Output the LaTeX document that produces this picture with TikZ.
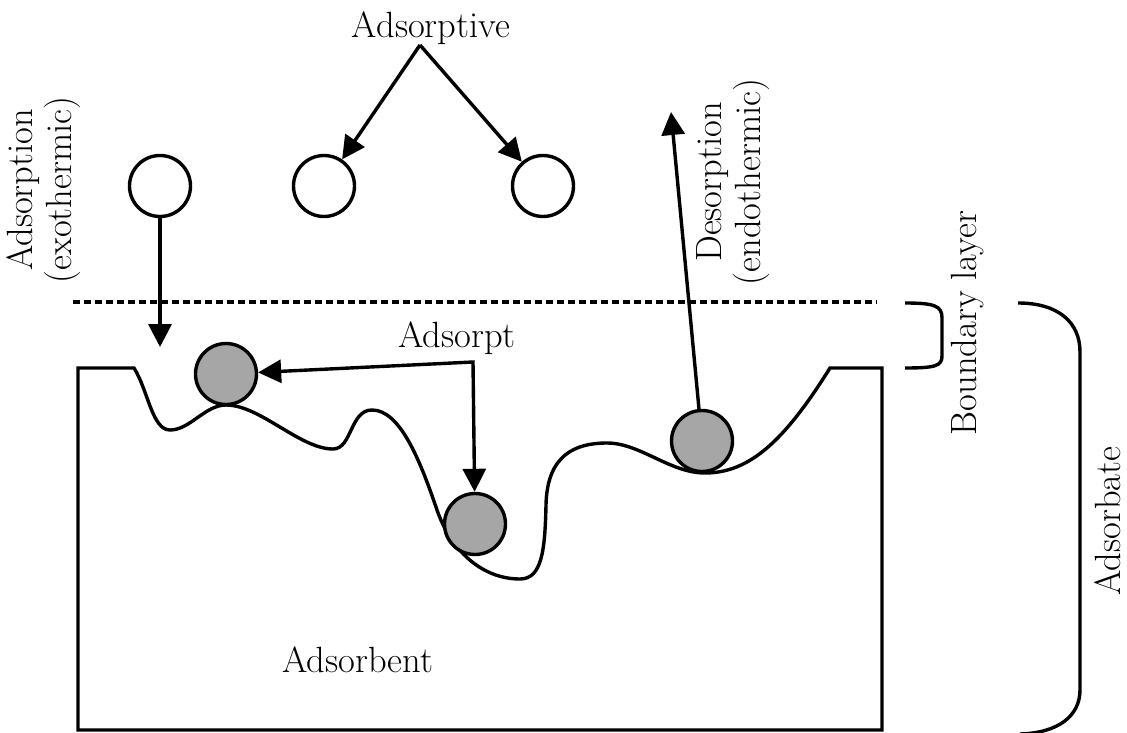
\documentclass[tikz,border=0pt]{standalone}
\usetikzlibrary{arrows.meta}
\definecolor{ballgray}{RGB}{166,166,166}
\begin{document}
\begin{tikzpicture}[x=1pt,y=-1pt,
  every node/.style={font=\fontsize{36.5}{39}\selectfont},
  ball/.style={circle,draw,line width=3.4pt,minimum size=61pt,inner sep=0pt},
  freeball/.style={ball,fill=white},
  boundball/.style={ball,fill=ballgray},
  conn/.style={line width=3.4pt,-{Triangle[length=23pt,width=23pt]}},
  outline/.style={line width=3.4pt,line join=miter},
  lbl/.style={inner sep=0pt,align=center}]
\useasboundingbox (0,0) rectangle (1127,733);

% adsorbent body with rough surface
\draw[outline] (78,730) -- (78,368) -- (134,368)
  .. controls (148,390) and (152,430) .. (170,430)
  .. controls (190,430) and (205,405) .. (226,405)
  .. controls (260,405) and (300,449) .. (333,449)
  .. controls (352,449) and (350,410) .. (372,410)
  .. controls (400,410) and (420,460) .. (437,510)
  .. controls (450,548) and (480,579) .. (520,579)
  .. controls (542,579) and (545,550) .. (546,505)
  .. controls (547,455) and (575,443) .. (607,443)
  .. controls (640,443) and (670,473) .. (705,473)
  .. controls (750,473) and (785,440) .. (830,368)
  -- (882,368) -- (882,730) -- cycle;

% boundary (dashed) line
\draw[line width=3.4pt,dash pattern=on 7pt off 4pt] (73,302) -- (877,302);

% free molecules
\node[freeball] (c1) at (160,186) {};
\node[freeball] (c2) at (324,186) {};
\node[freeball] (c3) at (543,186) {};

% adsorbed molecules
\node[boundball] (g1) at (226,374) {};
\node[boundball] (g2) at (475,524) {};
\node[boundball] (g3) at (702,441) {};

% labels
\node[lbl] (adsorptive) at (431,28) {Adsorptive};
\node[lbl] (adsorpt) at (457,338) {Adsorpt};
\node[lbl] (adsorbent) at (358,660) {Adsorbent};
\node[lbl,rotate=90] (adsorption) at (44,190) {Adsorption\\(exothermic)};
\node[lbl,rotate=90] (desorption) at (733,182) {Desorption\\(endothermic)};
\node[lbl,rotate=90] (boundary) at (968,323) {Boundary layer};
\node[lbl,rotate=90] (adsorbate) at (1108,521) {Adsorbate};

% connectors
\coordinate (apex) at (420,45);
\draw[conn] (apex) -- (c2);
\draw[conn] (apex) -- (c3);
\coordinate (landing) at (160,347);
\draw[conn] (c1) -- (landing);
\coordinate (desTip) at (671,112);
\draw[conn] (g3) -- (desTip);
\coordinate (corner) at (473,362);
\draw[line width=3.4pt,{Triangle[length=23pt,width=23pt]}-{Triangle[length=23pt,width=23pt]}] (g1) -- (corner) -- (g2);

% brackets
\draw[line width=3.4pt] (905,303) .. controls (935,303) and (942,306) .. (942,318) -- (942,356) .. controls (942,366) and (935,368) .. (905,368);
\draw[line width=3.4pt] (1018,303) .. controls (1058,303) and (1080,322) .. (1080,352) -- (1080,690) .. controls (1080,716) and (1058,733) .. (1020,734);
\end{tikzpicture}
\end{document}
